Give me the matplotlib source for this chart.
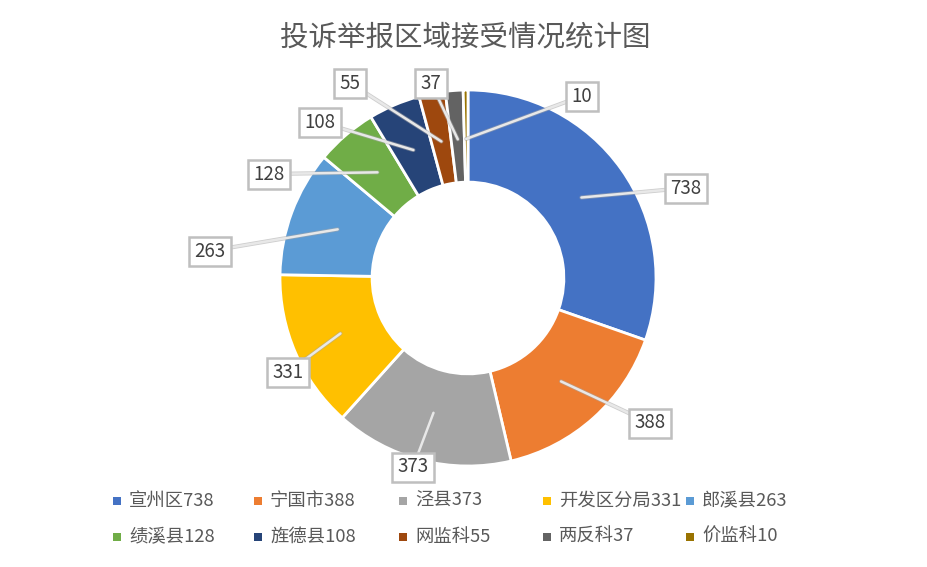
import matplotlib
matplotlib.use("Agg")
import matplotlib.pyplot as plt
import numpy as np

plt.rcParams['font.family'] = ['Noto Sans CJK SC', 'DejaVu Sans']

categories = ['宣州区', '宁国市', '泾县', '开发区分局', '郎溪县',
              '绩溪县', '旌德县', '网监科', '两反科', '价监科']
values = [738, 388, 373, 331, 263, 128, 108, 55, 37, 10]
colors = ['#4472C4', '#ED7D31', '#A5A5A5', '#FFC000', '#5B9BD5',
          '#70AD47', '#264478', '#9E480E', '#636363', '#997300']
title = '投诉举报区域接受情况统计图'

# label box centres (pixel positions in the 928x567 canvas)
label_px = [(686, 188), (650, 423), (413, 467), (288, 372), (210, 251),
            (269, 174), (320, 122), (350, 83), (431, 83), (582, 96)]

W, H = 928, 567
CX, CY, R = 468, 278, 188

fig = plt.figure(figsize=(W / 100, H / 100), dpi=100)
fig.patch.set_facecolor('white')
ax = fig.add_axes([0, 0, 1, 1])

wedges, _ = ax.pie(values, colors=colors, startangle=90, counterclock=False,
                   radius=1.0,
                   wedgeprops=dict(width=0.49, edgecolor='white', linewidth=2))
ax.set_xlim(-CX / R, (W - CX) / R)
ax.set_ylim(-(H - CY) / R, CY / R)
ax.set_aspect('equal')
ax.axis('off')

def px2data(x, y):
    return (x - CX) / R, (CY - y) / R

total = float(sum(values))
cum = 0.0
for v, (lx, ly) in zip(values, label_px):
    mid = (cum + v / 2) / total
    cum += v
    ang = np.deg2rad(90 - 360 * mid)
    ex, ey = 0.74 * np.cos(ang), 0.74 * np.sin(ang)
    bx, by = px2data(lx, ly)
    ax.plot([bx, ex], [by, ey], color='#a6a6a6', lw=3.0, zorder=3,
            solid_capstyle='round', alpha=0.55)
    ax.plot([bx, ex], [by, ey], color='#e8e8e8', lw=1.8, zorder=3.1,
            solid_capstyle='round')
    s = str(v)
    bw = (11 + 10.3 * len(s)) / R
    bh = 29 / R
    ax.add_patch(plt.Rectangle((bx - bw / 2, by - bh / 2), bw, bh,
                               fc='white', ec='#bfbfbf', lw=1.8, zorder=4.5))
    ax.text(bx, by, s, ha='center', va='center', fontsize=13.5,
            color='#404040', zorder=5)

fig.text(465 / W, 1 - 38 / H, title, ha='center', va='center',
         fontsize=20.5, color='#595959')

# legend, drawn manually in two rows of five
col_x = [117, 258, 403, 547, 690]
row_y = [501, 537]
for i, (name, v, c) in enumerate(zip(categories, values, colors)):
    r, k = divmod(i, 5)
    mx, my = col_x[k], row_y[r]
    fig.patches.append(plt.Rectangle(((mx - 4) / W, 1 - (my + 4) / H), 8 / W, 8 / H,
                                     transform=fig.transFigure, fc=c, ec='none'))
    fig.text((mx + 12) / W, 1 - my / H, f'{name}{v}', ha='left', va='center',
             fontsize=13.2, color='#595959')

fig.savefig('out.png', dpi=100, facecolor='white')
